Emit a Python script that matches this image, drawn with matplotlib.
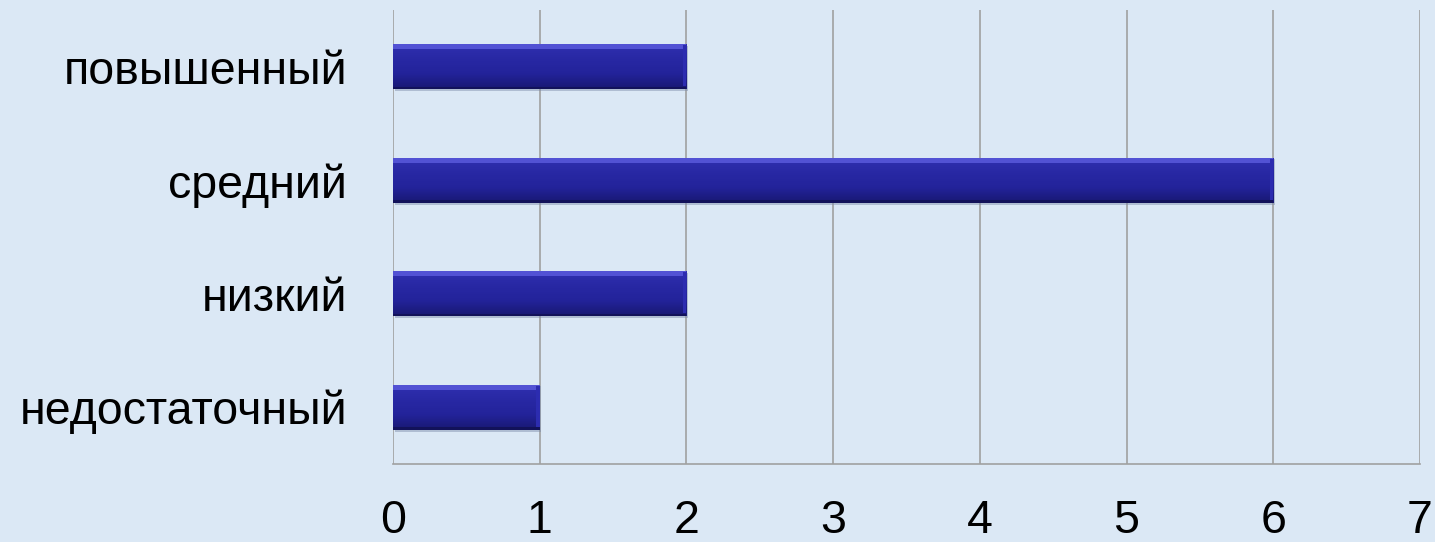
import matplotlib
matplotlib.use("Agg")
import matplotlib.pyplot as plt
import numpy as np
from matplotlib.colors import LinearSegmentedColormap

categories = ["повышенный", "средний", "низкий", "недостаточный"]
values = [2, 6, 2, 1]
xticks = [0, 1, 2, 3, 4, 5, 6, 7]

plt.rcParams['font.family'] = ['Liberation Sans', 'DejaVu Sans']

fig = plt.figure(figsize=(14.35, 5.42), dpi=100)
fig.patch.set_facecolor('#dbe8f5')
ax = fig.add_axes([393/1435, (542-464)/542, (1420-393)/1435, (464-10)/542])
ax.set_facecolor('none')

ypos = np.arange(len(categories))[::-1]
h = 0.4

# shadow
ax.barh(ypos - 0.015, values, height=h, left=0.012, color='#7a8aa8', alpha=0.45, zorder=2)
# main bar
bars = ax.barh(ypos, values, height=h, color='#25259a', edgecolor='none', zorder=3)
grad = np.linspace(0, 1, 100).reshape(-1, 1)
cmap = LinearSegmentedColormap.from_list('b', ['#181872', '#23239a', '#2828a4', '#3030b0'])
for b in bars:
    x0, y0 = b.get_x(), b.get_y()
    w, hh = b.get_width(), b.get_height()
    im = ax.imshow(grad, extent=[x0, x0 + w, y0, y0 + hh], origin='lower',
                   cmap=cmap, aspect='auto', zorder=3.5)
    im.set_clip_path(b)
# top bevel highlight
ax.barh(ypos + h/2 - 0.022, values, height=0.044, color='#5252d4', zorder=4)
# bottom dark edge
ax.barh(ypos - h/2 + 0.012, values, height=0.024, color='#12125a', zorder=4)
# right edge
ax.barh(ypos + 0.01, [0.025]*len(values), left=[v - 0.025 for v in values], height=h*0.9,
        color='#2c2cb0', zorder=4)

ax.set_xlim(0, 7)
ax.set_ylim(-0.5, len(categories) - 0.5)
ax.set_xticks(xticks)
ax.set_xticklabels([str(t) for t in xticks], fontsize=33.5)
ax.set_yticks(ypos)
ax.set_yticklabels(categories, fontsize=33.5)
ax.tick_params(axis='both', length=0)
ax.tick_params(axis='x', pad=25)
ax.tick_params(axis='y', pad=33)
ax.xaxis.grid(True, color='#a0a0a0', linewidth=1.2, zorder=1)
ax.set_axisbelow(True)
for s in ['top', 'right', 'left']:
    ax.spines[s].set_visible(False)
ax.spines['bottom'].set_color('#a0a0a0')
ax.spines['bottom'].set_linewidth(1.2)

fig.savefig('out.png', dpi=100, facecolor=fig.get_facecolor())
